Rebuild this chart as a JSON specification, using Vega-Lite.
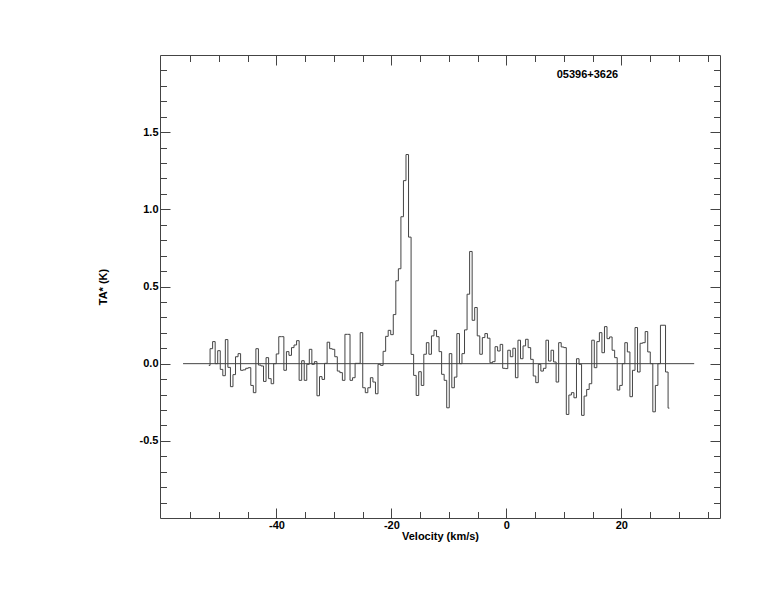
{
  "$schema": "https://vega.github.io/schema/vega-lite/v6.json",
  "width": 560,
  "height": 463,
  "autosize": {"type": "none"},
  "padding": {"left": 160, "top": 55, "right": 54, "bottom": 94},
  "background": "white",
  "config": {
    "view": {"stroke": null},
    "axis": {
      "grid": false,
      "domainColor": "#444",
      "tickColor": "#444",
      "domainWidth": 1,
      "tickWidth": 1,
      "labelFont": "Liberation Sans",
      "labelFontWeight": "bold",
      "labelFontSize": 11,
      "labelColor": "black",
      "labelFlush": false,
      "labelOverlap": false,
      "titleFont": "Liberation Sans",
      "titleFontWeight": "bold",
      "titleFontSize": 11,
      "titleColor": "black"
    }
  },
  "datasets": {
    "spectrum": [
      {"v": -51.769, "t": -0.011}, {"v": -51.327, "t": 0.097}, {"v": -50.884, "t": 0.143}, {"v": -50.441, "t": 0.0},
      {"v": -49.998, "t": 0.084}, {"v": -49.556, "t": -0.037}, {"v": -49.113, "t": -0.078}, {"v": -48.670, "t": 0.156},
      {"v": -48.228, "t": -0.024}, {"v": -47.785, "t": -0.149}, {"v": -47.342, "t": -0.071}, {"v": -46.900, "t": 0.045},
      {"v": -46.457, "t": 0.065}, {"v": -46.014, "t": -0.043}, {"v": -45.572, "t": -0.040}, {"v": -45.129, "t": -0.030},
      {"v": -44.686, "t": -0.026}, {"v": -44.243, "t": -0.141}, {"v": -43.801, "t": -0.188}, {"v": -43.358, "t": 0.097},
      {"v": -42.915, "t": -0.009}, {"v": -42.473, "t": -0.015}, {"v": -42.030, "t": -0.115}, {"v": -41.587, "t": 0.039},
      {"v": -41.145, "t": -0.097}, {"v": -40.702, "t": -0.130}, {"v": -40.259, "t": 0.0}, {"v": -39.817, "t": 0.063},
      {"v": -39.374, "t": 0.175}, {"v": -38.931, "t": 0.175}, {"v": -38.488, "t": -0.043}, {"v": -38.046, "t": 0.078},
      {"v": -37.603, "t": 0.054}, {"v": -37.160, "t": 0.104}, {"v": -36.718, "t": 0.121}, {"v": -36.275, "t": 0.149},
      {"v": -35.832, "t": -0.108}, {"v": -35.390, "t": 0.019}, {"v": -34.947, "t": -0.108}, {"v": -34.504, "t": -0.004},
      {"v": -34.062, "t": 0.093}, {"v": -33.619, "t": -0.004}, {"v": -33.176, "t": 0.013}, {"v": -32.733, "t": -0.208},
      {"v": -32.291, "t": -0.084}, {"v": -31.848, "t": -0.102}, {"v": -31.405, "t": 0.002}, {"v": -30.963, "t": 0.139},
      {"v": -30.520, "t": 0.097}, {"v": -30.077, "t": 0.093}, {"v": -29.635, "t": 0.045}, {"v": -29.192, "t": -0.048},
      {"v": -28.749, "t": -0.058}, {"v": -28.307, "t": -0.108}, {"v": -27.864, "t": 0.190}, {"v": -27.421, "t": 0.190},
      {"v": -26.978, "t": -0.108}, {"v": -26.536, "t": -0.091}, {"v": -26.093, "t": 0.002}, {"v": -25.650, "t": 0.002},
      {"v": -25.208, "t": 0.201}, {"v": -24.765, "t": -0.156}, {"v": -24.322, "t": -0.188}, {"v": -23.880, "t": -0.156},
      {"v": -23.437, "t": -0.091}, {"v": -22.994, "t": -0.119}, {"v": -22.552, "t": -0.195}, {"v": -22.109, "t": -0.004},
      {"v": -21.666, "t": -0.011}, {"v": -21.223, "t": 0.080}, {"v": -20.781, "t": 0.177}, {"v": -20.338, "t": 0.216},
      {"v": -19.895, "t": 0.188}, {"v": -19.453, "t": 0.318}, {"v": -19.010, "t": 0.537}, {"v": -18.567, "t": 0.615},
      {"v": -18.125, "t": 0.952}, {"v": -17.682, "t": 1.186}, {"v": -17.239, "t": 1.355}, {"v": -16.796, "t": 0.820},
      {"v": -16.353, "t": 0.060}, {"v": -15.911, "t": -0.076}, {"v": -15.468, "t": -0.206}, {"v": -15.025, "t": -0.052},
      {"v": -14.583, "t": -0.141}, {"v": -14.140, "t": 0.061}, {"v": -13.697, "t": 0.136}, {"v": -13.255, "t": 0.061},
      {"v": -12.812, "t": 0.180}, {"v": -12.369, "t": 0.216}, {"v": -11.927, "t": 0.175}, {"v": -11.484, "t": 0.078},
      {"v": -11.041, "t": -0.069}, {"v": -10.598, "t": -0.108}, {"v": -10.156, "t": -0.286}, {"v": -9.713, "t": 0.065},
      {"v": -9.270, "t": -0.156}, {"v": -8.828, "t": -0.087}, {"v": -8.385, "t": 0.195}, {"v": -7.942, "t": 0.0},
      {"v": -7.500, "t": 0.065}, {"v": -7.057, "t": 0.219}, {"v": -6.614, "t": 0.450}, {"v": -6.172, "t": 0.727},
      {"v": -5.729, "t": 0.281}, {"v": -5.286, "t": 0.364}, {"v": -4.843, "t": 0.180}, {"v": -4.401, "t": 0.061},
      {"v": -3.958, "t": 0.169}, {"v": -3.515, "t": 0.195}, {"v": -3.073, "t": 0.165}, {"v": -2.630, "t": 0.006},
      {"v": -2.187, "t": 0.013}, {"v": -1.745, "t": 0.110}, {"v": -1.302, "t": 0.082}, {"v": -0.859, "t": 0.125},
      {"v": -0.417, "t": -0.030}, {"v": 0.026, "t": -0.032}, {"v": 0.469, "t": 0.087}, {"v": 0.912, "t": 0.045},
      {"v": 1.354, "t": 0.100}, {"v": 1.797, "t": -0.091}, {"v": 2.240, "t": 0.152}, {"v": 2.682, "t": 0.032},
      {"v": 3.125, "t": 0.115}, {"v": 3.568, "t": 0.158}, {"v": 4.010, "t": 0.104}, {"v": 4.453, "t": 0.028},
      {"v": 4.896, "t": -0.080}, {"v": 5.338, "t": -0.123}, {"v": 5.781, "t": -0.004}, {"v": 6.224, "t": -0.048},
      {"v": 6.667, "t": -0.030}, {"v": 7.109, "t": 0.152}, {"v": 7.552, "t": 0.017}, {"v": 7.995, "t": 0.087},
      {"v": 8.437, "t": 0.011}, {"v": 8.880, "t": -0.119}, {"v": 9.323, "t": 0.136}, {"v": 9.765, "t": 0.108},
      {"v": 10.208, "t": 0.104}, {"v": 10.651, "t": -0.329}, {"v": 11.093, "t": -0.203}, {"v": 11.536, "t": -0.188},
      {"v": 11.979, "t": -0.221}, {"v": 12.422, "t": 0.032}, {"v": 12.864, "t": -0.004}, {"v": 13.307, "t": -0.335},
      {"v": 13.750, "t": -0.210}, {"v": 14.192, "t": -0.167}, {"v": 14.635, "t": -0.130}, {"v": 15.078, "t": 0.152},
      {"v": 15.520, "t": -0.026}, {"v": 15.963, "t": 0.143}, {"v": 16.406, "t": 0.201}, {"v": 16.848, "t": 0.071},
      {"v": 17.291, "t": 0.240}, {"v": 17.734, "t": 0.162}, {"v": 18.177, "t": 0.173}, {"v": 18.619, "t": 0.087},
      {"v": 19.062, "t": 0.039}, {"v": 19.505, "t": -0.171}, {"v": 19.947, "t": -0.141}, {"v": 20.390, "t": 0.0},
      {"v": 20.833, "t": 0.136}, {"v": 21.275, "t": 0.076}, {"v": 21.718, "t": -0.214}, {"v": 22.161, "t": -0.043},
      {"v": 22.603, "t": 0.234}, {"v": 23.046, "t": -0.054}, {"v": 23.489, "t": 0.132}, {"v": 23.932, "t": 0.136},
      {"v": 24.374, "t": 0.208}, {"v": 24.817, "t": 0.076}, {"v": 25.260, "t": 0.0}, {"v": 25.702, "t": -0.312},
      {"v": 26.145, "t": -0.141}, {"v": 26.588, "t": 0.0}, {"v": 27.030, "t": 0.249}, {"v": 27.473, "t": 0.249},
      {"v": 27.916, "t": -0.054}, {"v": 28.358, "t": -0.288}
    ],
    "baseline": [{"x1": -56.25, "x2": 32.68, "y": 0}],
    "label": [{"x": 14.1, "y": 1.87, "name": "05396+3626"}]
  },
  "resolve": {"axis": {"x": "independent", "y": "independent"}},
  "layer": [
    {
      "data": {"name": "spectrum"},
      "mark": {"type": "line", "interpolate": "step", "color": "#444", "strokeWidth": 1},
      "encoding": {
        "x": {
          "field": "v", "type": "quantitative",
          "scale": {"domain": [-60.26, 37.17], "nice": false, "zero": false},
          "axis": {
            "orient": "bottom", "values": [-40, -20, 0, 20], "tickSize": -10, "labelPadding": 11,
            "labelExpr": "datum.value < 0 ? '-' + format(-datum.value, 'd') : format(datum.value, 'd')",
            "title": "Velocity (km/s)", "titlePadding": 0
          }
        },
        "y": {
          "field": "t", "type": "quantitative",
          "scale": {"domain": [-1, 2], "nice": false, "zero": false},
          "axis": {
            "orient": "left", "values": [-0.5, 0, 0.5, 1, 1.5], "tickSize": -10, "labelPadding": 12,
            "labelExpr": "datum.value < 0 ? '-' + format(-datum.value, '.1f') : format(datum.value, '.1f')",
            "title": "TA* (K)", "titlePadding": 31
          }
        }
      }
    },
    {
      "data": {"name": "baseline"},
      "mark": {"type": "rule", "color": "#444", "strokeWidth": 1},
      "encoding": {
        "x": {
          "field": "x1", "type": "quantitative",
          "scale": {"domain": [-60.26, 37.17], "nice": false, "zero": false},
          "axis": {"orient": "top", "values": [-40, -20, 0, 20], "tickSize": -10, "labels": false, "title": null}
        },
        "x2": {"field": "x2"},
        "y": {
          "field": "y", "type": "quantitative",
          "scale": {"domain": [-1, 2], "nice": false, "zero": false},
          "axis": {"orient": "right", "values": [-0.5, 0, 0.5, 1, 1.5], "tickSize": -10, "labels": false, "title": null}
        }
      }
    },
    {
      "data": {"name": "label"},
      "mark": {"type": "text", "font": "Liberation Sans", "fontWeight": "bold", "fontSize": 11, "color": "black", "align": "center", "baseline": "middle"},
      "encoding": {
        "x": {
          "field": "x", "type": "quantitative",
          "scale": {"domain": [-60.26, 37.17], "nice": false, "zero": false},
          "axis": {"orient": "bottom", "values": [-55, -50, -45, -35, -30, -25, -15, -10, -5, 5, 10, 15, 25, 30, 35], "tickSize": -6.5, "labels": false, "title": null, "domain": false}
        },
        "y": {
          "field": "y", "type": "quantitative",
          "scale": {"domain": [-1, 2], "nice": false, "zero": false},
          "axis": {"orient": "left", "values": [-0.9, -0.8, -0.7, -0.6, -0.4, -0.3, -0.2, -0.1, 0.1, 0.2, 0.3, 0.4, 0.6, 0.7, 0.8, 0.9, 1.1, 1.2, 1.3, 1.4, 1.6, 1.7, 1.8, 1.9], "tickSize": -6.5, "labels": false, "title": null, "domain": false}
        },
        "text": {"field": "name"}
      }
    },
    {
      "data": {"name": "label"},
      "mark": {"type": "point", "opacity": 0},
      "encoding": {
        "x": {
          "field": "x", "type": "quantitative",
          "scale": {"domain": [-60.26, 37.17], "nice": false, "zero": false},
          "axis": {"orient": "top", "values": [-55, -50, -45, -35, -30, -25, -15, -10, -5, 5, 10, 15, 25, 30, 35], "tickSize": -6.5, "labels": false, "title": null, "domain": false}
        },
        "y": {
          "field": "y", "type": "quantitative",
          "scale": {"domain": [-1, 2], "nice": false, "zero": false},
          "axis": {"orient": "right", "values": [-0.9, -0.8, -0.7, -0.6, -0.4, -0.3, -0.2, -0.1, 0.1, 0.2, 0.3, 0.4, 0.6, 0.7, 0.8, 0.9, 1.1, 1.2, 1.3, 1.4, 1.6, 1.7, 1.8, 1.9], "tickSize": -6.5, "labels": false, "title": null, "domain": false}
        }
      }
    }
  ]
}
